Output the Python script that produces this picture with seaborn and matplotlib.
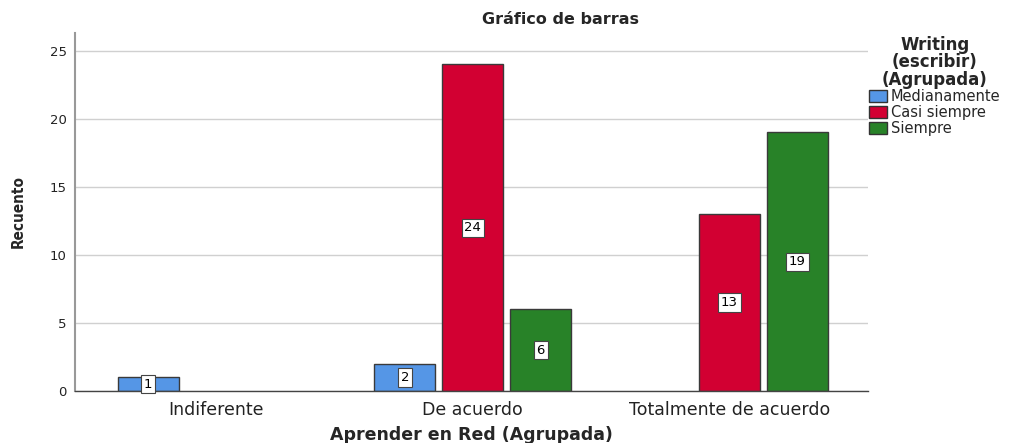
import pandas as pd
import matplotlib.pyplot as plt
import seaborn as sns
import numpy as np

# Data
categories = ["Indiferente", "De acuerdo", "Totalmente de acuerdo"]
series = ["Medianamente", "Casi siempre", "Siempre"]
medianamente = [1, 2, np.nan]
casi_siempre = [np.nan, 24, 13]
siempre = [np.nan, 6, 19]

rows = []
for name, vals in zip(series, [medianamente, casi_siempre, siempre]):
    for cat, v in zip(categories, vals):
        rows.append({"red": cat, "writing": name, "count": v})
df = pd.DataFrame(rows)

sns.set_theme(style="white")
plt.rcParams['font.family'] = ['DejaVu Sans']

palette = {"Medianamente": "#5596e6", "Casi siempre": "#d20032", "Siempre": "#288228"}

fig = plt.figure(figsize=(10.15, 4.43), dpi=100)
ax = fig.add_axes([75 / 1015, 1 - 391 / 443, (868 - 75) / 1015, (391 - 33) / 443])

sns.barplot(data=df, x="red", y="count", hue="writing", order=categories,
            hue_order=series, palette=palette, width=0.795, gap=0.1,
            edgecolor="#3a3a3a", linewidth=1.0, ax=ax, legend=True,
            errorbar=None, saturation=1)

ax.set_xlim(-0.55, 2.54)
ax.set_ylim(0, 26.3)
ax.set_yticks([0, 5, 10, 15, 20, 25])
ax.yaxis.grid(True, color="#d0d0d0", linewidth=1)
ax.set_axisbelow(True)
for s in ["top", "right"]:
    ax.spines[s].set_visible(False)
ax.spines["left"].set_color("#999999")
ax.spines["left"].set_linewidth(1.5)
ax.spines["bottom"].set_color("#444444")
ax.spines["bottom"].set_linewidth(1)
ax.tick_params(axis="y", labelsize=9.5, colors="#222222", length=0, pad=6)
ax.tick_params(axis="x", labelsize=12.5, colors="#222222", length=0, pad=7)

# value labels in white boxes at bar middle
for p in ax.patches:
    h = p.get_height()
    if np.isnan(h) or h == 0 or p.get_width() == 0:
        continue
    ax.text(p.get_x() + p.get_width() / 2, h / 2, f"{int(h)}",
            ha="center", va="center", fontsize=9.5, color="black",
            bbox=dict(boxstyle="square,pad=0.2", fc="white", ec="#444444", lw=0.8))

ax.set_xlabel("")
ax.set_ylabel("")
fig.text(471 / 1015, 1 - 435 / 443, "Aprender en Red (Agrupada)", ha="center", va="center",
         fontsize=12.5, fontweight="bold")
fig.text(18 / 1015, 1 - 212 / 443, "Recuento", rotation=90, ha="center", va="center",
         fontsize=11, fontweight="bold", fontstretch="condensed")
fig.text(561 / 1015, 1 - 20 / 443, "Gráfico de barras", ha="center", va="center",
         fontsize=11.5, fontweight="bold")

leg = ax.legend(title="Writing\n(escribir)\n(Agrupada)", loc="upper left",
                bbox_to_anchor=(869 / 1015, 1 - 36 / 443), bbox_transform=fig.transFigure,
                frameon=False, fontsize=10.5, handlelength=1.2, handleheight=0.9,
                handletextpad=0.3, labelspacing=0.05, borderaxespad=0, borderpad=0)
leg.get_title().set_fontweight("bold")
leg.get_title().set_fontsize(12)
leg.get_title().set_multialignment("center")
leg.get_title().set_linespacing(0.95)
leg._legend_box.align = "center"
for h in leg.legend_handles:
    h.set_edgecolor("#333333")

fig.savefig("out.png", dpi=100)
